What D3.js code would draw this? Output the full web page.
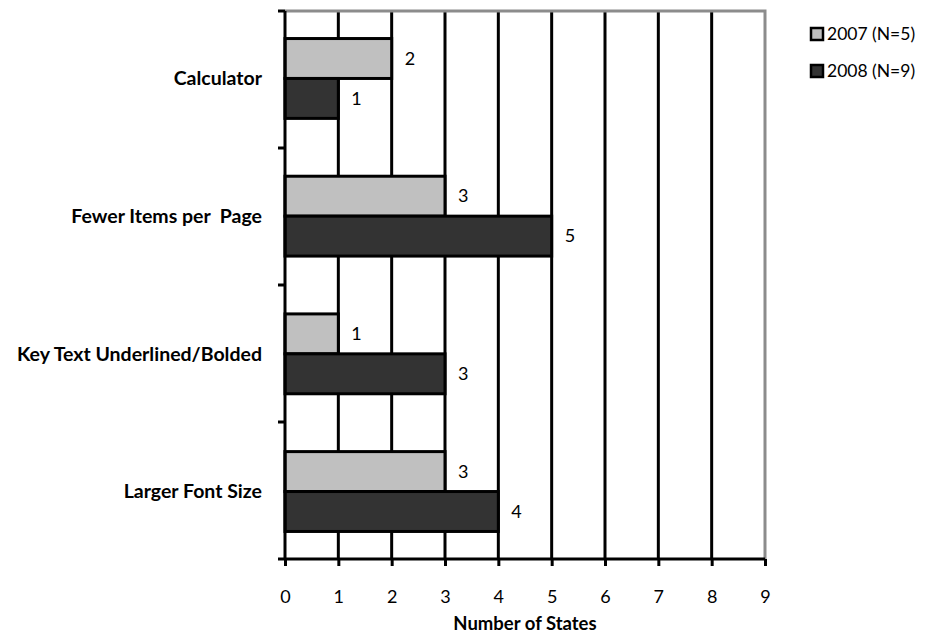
<!DOCTYPE html>
<html>
<head>
<meta charset="utf-8">
<script src="https://cdn.jsdelivr.net/npm/d3@7"></script>
<style>
  body { margin: 0; background: #fff; }
  text { font-family: Lato, "Open Sans", sans-serif; fill: #000; }
</style>
</head>
<body>
<script>
// chart data
var categories = ["Calculator", "Fewer Items per  Page", "Key Text Underlined/Bolded", "Larger Font Size"];
var seriesNames = ["2007 (N=5)", "2008 (N=9)"];
var values2007 = [2, 3, 1, 3];
var values2008 = [1, 5, 3, 4];
var xTicks = [0, 1, 2, 3, 4, 5, 6, 7, 8, 9];
var colors = ["#c0c0c0", "#333333"];

var width = 926, height = 637;
var plotLeft = 285, plotRight = 765, plotTop = 11, plotBottom = 559;

var svg = d3.select("body").append("svg")
    .attr("width", width)
    .attr("height", height);

var x = d3.scaleLinear().domain([0, 9]).range([plotLeft, plotRight]);
var y = d3.scaleBand().domain(categories).range([plotTop, plotBottom]).paddingInner(0.42).paddingOuter(0.2);
var ySub = d3.scaleBand().domain([0, 1]).range([0, y.bandwidth()]);

// gridlines
svg.selectAll(".grid")
    .data(xTicks.slice(1, 9))
    .enter().append("line")
    .attr("x1", function(d) { return x(d); })
    .attr("x2", function(d) { return x(d); })
    .attr("y1", plotTop)
    .attr("y2", plotBottom)
    .attr("stroke", "#000")
    .attr("stroke-width", 3);

// grey top and right border
svg.append("path")
    .attr("d", "M" + plotLeft + "," + plotTop + "H" + plotRight + "V" + plotBottom)
    .attr("fill", "none")
    .attr("stroke", "#8c8c8c")
    .attr("stroke-width", 3);

// bars
var rows = categories.map(function(c, i) { return {cat: c, vals: [values2007[i], values2008[i]]}; });
var groups = svg.selectAll(".cat")
    .data(rows)
    .enter().append("g")
    .attr("transform", function(d) { return "translate(0," + y(d.cat) + ")"; });

groups.selectAll("rect")
    .data(function(d) { return d.vals; })
    .enter().append("rect")
    .attr("x", x(0))
    .attr("y", function(d, i) { return ySub(i); })
    .attr("width", function(d) { return x(d) - x(0); })
    .attr("height", ySub.bandwidth())
    .attr("fill", function(d, i) { return colors[i]; })
    .attr("stroke", "#000")
    .attr("stroke-width", 3);

groups.selectAll(".val")
    .data(function(d) { return d.vals; })
    .enter().append("text")
    .attr("x", function(d) { return x(d) + 13; })
    .attr("y", function(d, i) { return ySub(i) + ySub.bandwidth() / 2; })
    .attr("dy", "0.35em")
    .attr("font-size", 18)
    .text(function(d) { return d; });

// axes
var xAxis = svg.append("g")
    .attr("transform", "translate(0," + plotBottom + ")")
    .call(d3.axisBottom(x).tickValues(xTicks).tickSize(7).tickPadding(24));
xAxis.select(".domain").attr("stroke-width", 3).attr("d", "M" + (plotLeft - 1) + ",0H" + plotRight);
xAxis.selectAll(".tick line").attr("stroke-width", 3);
xAxis.selectAll(".tick text").attr("font-size", 18).attr("font-family", "Lato, sans-serif").attr("fill", "#000");

// left axis with ticks at band edges
var edges = d3.range(0, 5).map(function(i) { return plotTop + i * (plotBottom - plotTop) / 4; });
svg.append("line")
    .attr("x1", plotLeft).attr("x2", plotLeft)
    .attr("y1", plotTop).attr("y2", plotBottom)
    .attr("stroke", "#000").attr("stroke-width", 3);
svg.selectAll(".ytick")
    .data(edges)
    .enter().append("line")
    .attr("x1", plotLeft - 7).attr("x2", plotLeft)
    .attr("y1", function(d) { return d; })
    .attr("y2", function(d) { return d; })
    .attr("stroke", "#000").attr("stroke-width", 3);

svg.selectAll(".catlabel")
    .data(categories)
    .enter().append("text")
    .attr("x", 262)
    .attr("y", function(d) { return y(d) + y.bandwidth() / 2; })
    .attr("dy", "0.35em")
    .attr("text-anchor", "end")
    .attr("font-size", 19.5)
    .attr("font-weight", "bold")
    .attr("xml:space", "preserve")
    .text(function(d) { return d; });

svg.append("text")
    .attr("x", (plotLeft + plotRight) / 2)
    .attr("y", 630)
    .attr("text-anchor", "middle")
    .attr("font-size", 18.5)
    .attr("font-weight", "bold")
    .text("Number of States");

// legend
var legend = svg.selectAll(".legend")
    .data(seriesNames)
    .enter().append("g")
    .attr("transform", function(d, i) { return "translate(811," + (34 + i * 37) + ")"; });
legend.append("rect")
    .attr("x", 0).attr("y", -6)
    .attr("width", 12).attr("height", 12)
    .attr("fill", function(d, i) { return colors[i]; })
    .attr("stroke", "#000").attr("stroke-width", 2.5);
legend.append("text")
    .attr("x", 16)
    .attr("dy", "0.35em")
    .attr("font-size", 17.5)
    .text(function(d) { return d; });
</script>
</body>
</html>
